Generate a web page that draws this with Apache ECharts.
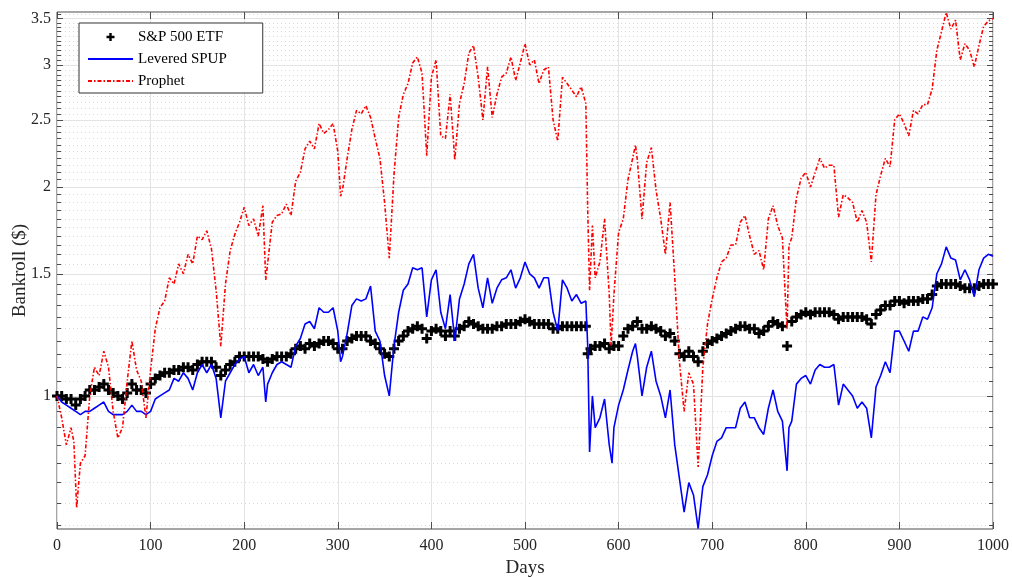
<!DOCTYPE html>
<html><head><meta charset="utf-8">
<script src="https://cdn.jsdelivr.net/npm/echarts@6/dist/echarts.min.js"></script>
<style>html,body{margin:0;padding:0;background:#fff}#c{width:1012px;height:577px}</style>
</head><body><div id="c"></div>
<script>
const seriesNames = ['S&P 500 ETF', 'Levered SPUP', 'Prophet'];

const sp500 = [[0,1.0],[5,1.0],[10,0.99],[15,0.99],[20,0.97],[25,0.99],[30,1.0],[35,1.02],[40,1.02],[45,1.03],[50,1.04],[55,1.02],[60,1.01],[65,1.0],[70,0.99],[75,1.01],[80,1.04],[85,1.02],[90,1.02],[95,1.01],[100,1.04],[105,1.06],[110,1.07],[115,1.08],[120,1.08],[125,1.09],[130,1.09],[135,1.1],[140,1.1],[145,1.09],[150,1.11],[155,1.12],[160,1.12],[165,1.12],[170,1.1],[175,1.07],[180,1.09],[185,1.11],[190,1.12],[195,1.14],[200,1.14],[205,1.14],[210,1.14],[215,1.14],[220,1.13],[225,1.12],[230,1.13],[235,1.14],[240,1.14],[245,1.14],[250,1.15],[255,1.17],[260,1.18],[265,1.17],[270,1.19],[275,1.18],[280,1.19],[285,1.2],[290,1.2],[295,1.19],[300,1.17],[305,1.17],[310,1.2],[315,1.21],[320,1.22],[325,1.22],[330,1.22],[335,1.2],[340,1.19],[345,1.17],[350,1.15],[355,1.14],[360,1.17],[365,1.2],[370,1.22],[375,1.24],[380,1.25],[385,1.26],[390,1.25],[395,1.21],[400,1.24],[405,1.25],[410,1.24],[415,1.22],[420,1.24],[425,1.22],[430,1.25],[435,1.26],[440,1.28],[445,1.27],[450,1.26],[455,1.25],[460,1.25],[465,1.25],[470,1.26],[475,1.26],[480,1.27],[485,1.27],[490,1.27],[495,1.28],[500,1.29],[505,1.28],[510,1.27],[515,1.27],[520,1.27],[525,1.27],[530,1.25],[535,1.25],[540,1.26],[545,1.26],[550,1.26],[555,1.26],[560,1.26],[565,1.26],[567,1.15],[570,1.17],[575,1.18],[580,1.18],[585,1.19],[590,1.17],[595,1.18],[600,1.18],[605,1.22],[610,1.25],[615,1.26],[620,1.28],[625,1.25],[630,1.25],[635,1.26],[640,1.25],[645,1.24],[650,1.22],[655,1.23],[660,1.2],[665,1.15],[670,1.14],[675,1.16],[680,1.14],[685,1.12],[690,1.16],[695,1.19],[700,1.2],[705,1.21],[710,1.22],[715,1.23],[720,1.24],[725,1.25],[730,1.26],[735,1.26],[740,1.25],[745,1.25],[750,1.23],[755,1.24],[760,1.26],[765,1.28],[770,1.27],[775,1.26],[780,1.18],[785,1.28],[790,1.3],[795,1.31],[800,1.32],[805,1.31],[810,1.32],[815,1.32],[820,1.32],[825,1.32],[830,1.31],[835,1.29],[840,1.3],[845,1.3],[850,1.3],[855,1.3],[860,1.3],[865,1.29],[870,1.27],[875,1.31],[880,1.33],[885,1.35],[890,1.35],[895,1.37],[900,1.37],[905,1.36],[910,1.37],[915,1.37],[920,1.37],[925,1.38],[930,1.38],[935,1.4],[940,1.44],[945,1.45],[950,1.45],[955,1.45],[960,1.45],[965,1.44],[970,1.43],[975,1.43],[980,1.43],[985,1.44],[990,1.45],[995,1.45],[1000,1.45]];

const spup = [[0,1.0],[5,0.98],[10,0.97],[15,0.96],[20,0.95],[25,0.94],[30,0.95],[35,0.95],[40,0.96],[45,0.97],[50,0.98],[55,0.95],[60,0.94],[65,0.94],[70,0.94],[75,0.95],[80,0.97],[85,0.95],[90,0.95],[95,0.94],[100,0.95],[105,0.99],[110,1.0],[115,1.01],[120,1.02],[125,1.06],[130,1.05],[135,1.08],[140,1.06],[145,1.02],[150,1.08],[155,1.11],[160,1.08],[165,1.11],[170,1.06],[175,0.93],[180,1.05],[185,1.08],[190,1.11],[195,1.13],[200,1.14],[205,1.08],[210,1.11],[215,1.07],[220,1.1],[223,0.98],[225,1.04],[230,1.08],[235,1.11],[240,1.12],[245,1.11],[250,1.1],[255,1.18],[260,1.21],[265,1.27],[270,1.28],[275,1.25],[280,1.34],[285,1.32],[290,1.32],[295,1.34],[300,1.24],[303,1.12],[305,1.14],[310,1.23],[315,1.35],[320,1.38],[325,1.37],[330,1.38],[335,1.44],[340,1.24],[345,1.2],[350,1.07],[355,1.0],[360,1.18],[365,1.32],[370,1.42],[375,1.45],[380,1.53],[385,1.52],[390,1.53],[395,1.3],[400,1.47],[405,1.52],[410,1.32],[415,1.25],[420,1.4],[425,1.2],[430,1.38],[435,1.45],[440,1.55],[445,1.6],[450,1.43],[455,1.34],[460,1.48],[465,1.36],[470,1.43],[475,1.47],[480,1.48],[485,1.52],[490,1.43],[495,1.48],[500,1.56],[505,1.5],[510,1.48],[515,1.43],[520,1.48],[525,1.48],[530,1.32],[535,1.24],[540,1.47],[545,1.43],[550,1.37],[555,1.4],[560,1.36],[565,1.37],[567,1.18],[569,0.83],[572,1.0],[575,0.9],[580,0.93],[585,0.99],[590,0.85],[593,0.8],[595,0.9],[600,0.97],[605,1.02],[610,1.09],[615,1.16],[618,1.19],[620,1.14],[625,1.0],[630,1.1],[635,1.16],[640,1.05],[645,1.0],[650,0.93],[655,1.02],[660,0.85],[665,0.76],[670,0.68],[675,0.75],[680,0.72],[685,0.644],[690,0.74],[695,0.77],[700,0.82],[705,0.86],[710,0.87],[715,0.9],[720,0.9],[725,0.9],[730,0.96],[735,0.98],[740,0.93],[745,0.93],[750,0.9],[755,0.88],[760,0.96],[765,1.02],[770,0.95],[775,0.92],[780,0.78],[782,0.9],[785,0.92],[790,1.04],[795,1.06],[800,1.07],[805,1.04],[810,1.09],[815,1.11],[820,1.1],[825,1.1],[830,1.11],[835,0.97],[840,1.04],[845,1.02],[850,1.0],[855,0.96],[860,0.98],[865,0.96],[870,0.87],[875,1.03],[880,1.07],[885,1.12],[890,1.08],[895,1.24],[900,1.24],[905,1.2],[910,1.16],[915,1.24],[920,1.24],[925,1.3],[930,1.29],[935,1.34],[940,1.5],[945,1.55],[950,1.64],[955,1.58],[960,1.57],[965,1.47],[970,1.52],[975,1.47],[980,1.39],[985,1.52],[990,1.58],[995,1.6],[1000,1.59]];

const prophet = [[0,1.0],[5,0.93],[10,0.85],[15,0.9],[18,0.86],[21,0.69],[25,0.8],[30,0.82],[35,1.0],[40,1.1],[45,1.07],[50,1.16],[55,1.1],[60,0.95],[65,0.87],[70,0.9],[75,1.05],[80,1.2],[85,1.09],[90,1.05],[95,0.93],[100,1.09],[105,1.25],[110,1.34],[115,1.37],[120,1.48],[125,1.45],[130,1.55],[135,1.5],[140,1.6],[145,1.55],[150,1.7],[155,1.68],[160,1.73],[165,1.63],[170,1.42],[175,1.18],[180,1.45],[185,1.62],[190,1.71],[195,1.78],[200,1.87],[205,1.76],[210,1.8],[215,1.7],[220,1.88],[223,1.47],[225,1.55],[230,1.78],[235,1.82],[240,1.83],[245,1.89],[250,1.82],[255,2.04],[260,2.1],[265,2.27],[270,2.33],[275,2.27],[280,2.47],[285,2.39],[290,2.42],[295,2.47],[300,2.25],[303,1.94],[305,1.98],[310,2.2],[315,2.42],[320,2.58],[325,2.55],[330,2.62],[335,2.52],[340,2.35],[345,2.2],[350,1.9],[355,1.58],[360,2.08],[365,2.52],[370,2.72],[375,2.82],[380,3.02],[385,3.08],[390,2.92],[395,2.22],[400,2.88],[405,3.05],[410,2.37],[415,2.35],[420,2.72],[425,2.19],[430,2.64],[435,2.82],[440,3.12],[445,3.2],[450,2.88],[455,2.5],[460,2.98],[465,2.52],[470,2.72],[475,2.88],[480,2.92],[485,3.08],[490,2.85],[495,3.02],[500,3.22],[505,3.0],[510,3.05],[515,2.82],[520,2.95],[525,2.98],[530,2.5],[535,2.33],[540,2.88],[545,2.82],[550,2.76],[555,2.7],[560,2.79],[565,2.64],[567,1.85],[569,1.42],[572,1.76],[575,1.48],[580,1.56],[585,1.8],[590,1.4],[592,1.18],[595,1.4],[600,1.72],[605,1.8],[610,2.05],[615,2.2],[618,2.3],[620,2.19],[625,1.8],[630,2.17],[635,2.28],[640,1.98],[645,1.8],[650,1.6],[655,1.9],[660,1.48],[665,1.12],[670,0.95],[675,1.08],[680,1.04],[685,0.79],[690,1.1],[695,1.27],[700,1.38],[705,1.48],[710,1.56],[715,1.58],[720,1.65],[725,1.65],[730,1.78],[735,1.82],[740,1.7],[745,1.6],[750,1.62],[755,1.52],[760,1.8],[765,1.88],[770,1.76],[775,1.69],[778,1.4],[780,1.25],[782,1.65],[785,1.69],[790,1.93],[795,2.06],[800,2.1],[805,2.0],[810,2.1],[815,2.2],[820,2.13],[825,2.15],[830,2.15],[835,1.81],[840,1.95],[845,1.93],[850,1.9],[855,1.78],[860,1.85],[865,1.78],[870,1.56],[875,1.95],[880,2.08],[885,2.2],[890,2.14],[895,2.5],[900,2.55],[905,2.47],[910,2.37],[915,2.58],[920,2.55],[925,2.63],[930,2.63],[935,2.77],[940,3.15],[945,3.35],[950,3.57],[955,3.38],[960,3.48],[965,3.05],[970,3.22],[975,3.15],[980,2.98],[985,3.2],[990,3.41],[995,3.47],[1000,3.5]];

const yMajorTicks = [1, 1.5, 2, 2.5, 3, 3.5];
const yMinorTicks = [0.65,0.7,0.75,0.8,0.85,0.9,0.95,1.05,1.1,1.15,1.2,1.25,1.3,1.35,1.4,1.45,1.55,1.6,1.65,1.7,1.75,1.8,1.85,1.9,1.95,2.05,2.1,2.15,2.2,2.25,2.3,2.35,2.4,2.45,2.55,2.6,2.65,2.7,2.75,2.8,2.85,2.9,2.95,3.05,3.1,3.15,3.2,3.25,3.3,3.35,3.4,3.45,3.55];
const yRange = [0.643, 3.576];
const xRange = [0, 1000];
const xStep = 100;

const FONT = 'Liberation Serif';
const AX = '#4d4d4d';
const TXT = '#262626';
const plusPath = 'path://M-1.5,-5H1.5V-1.5H5V1.5H1.5V5H-1.5V1.5H-5V-1.5H-1.5Z';

function yAx(pos, ticks, len, opts) {
  return Object.assign({
    type: 'log', logBase: 10, min: yRange[0], max: yRange[1], position: pos,
    axisLine: {show: false},
    axisTick: {show: true, inside: true, length: len, customValues: ticks, lineStyle: {color: AX, width: 1}},
    axisLabel: {show: false},
    splitLine: {show: false},
    nameMoveOverlap: false
  }, opts || {});
}

const chart = echarts.init(document.getElementById('c'), null, {renderer: 'canvas'});
chart.setOption({
  animation: false,
  backgroundColor: '#fff',
  grid: {left: 57, right: 19, top: 12, bottom: 48, show: true, borderColor: AX, borderWidth: 1,
         backgroundColor: 'transparent', containLabel: false, outerBoundsMode: 'none'},
  legend: {
    left: 79, top: 23, orient: 'vertical', selectedMode: false,
    backgroundColor: '#fff', borderColor: '#333', borderWidth: 1,
    padding: [6, 36, 4, 8], itemWidth: 45, itemHeight: 8, itemGap: 6,
    textStyle: {fontFamily: FONT, fontSize: 15, color: '#000', lineHeight: 16},
    data: [
      {name: seriesNames[0], icon: plusPath, itemStyle: {color: '#000', opacity: 1}},
      {name: seriesNames[1], itemStyle: {opacity: 0}},
      {name: seriesNames[2], itemStyle: {opacity: 0}}
    ]
  },
  xAxis: [
    {type: 'value', min: xRange[0], max: xRange[1], interval: xStep, position: 'bottom',
     axisLine: {show: false},
     axisTick: {show: true, inside: true, length: 7, lineStyle: {color: AX}},
     axisLabel: {fontFamily: FONT, fontSize: 16, color: TXT, margin: 9, formatter: v => String(v)},
     splitLine: {show: true, lineStyle: {color: '#e3e3e3', width: 1}},
     name: 'Days', nameLocation: 'middle', nameGap: 30, nameMoveOverlap: false,
     nameTextStyle: {fontFamily: FONT, fontSize: 19, color: TXT}},
    {type: 'value', min: xRange[0], max: xRange[1], interval: xStep, position: 'top',
     axisLine: {show: false},
     axisTick: {show: true, inside: true, length: 7, lineStyle: {color: AX}},
     axisLabel: {show: false}, splitLine: {show: false}}
  ],
  yAxis: [
    yAx('left', yMajorTicks, 6, {
      axisLabel: {show: true, customValues: yMajorTicks, fontFamily: FONT, fontSize: 16, color: TXT, margin: 6,
                  formatter: v => String(Math.round(v * 100) / 100)},
      splitLine: {show: true, lineStyle: {color: '#e3e3e3', width: 1}},
      name: 'Bankroll ($)', nameLocation: 'middle', nameGap: 27,
      nameTextStyle: {fontFamily: FONT, fontSize: 19, color: TXT}
    }),
    yAx('left', yMinorTicks, 4, {splitLine: {show: true, lineStyle: {color: '#d9d9d9', width: 1, type: [1, 3]}}}),
    yAx('right', yMajorTicks, 6),
    yAx('right', yMinorTicks, 4)
  ],
  series: [
    {name: seriesNames[0], type: 'scatter', data: sp500, symbol: plusPath, symbolSize: 10,
     itemStyle: {color: '#000', opacity: 1}, xAxisIndex: 0, yAxisIndex: 0},
    {name: seriesNames[1], type: 'line', data: spup, symbol: 'none', showSymbol: false,
     lineStyle: {color: '#0000ff', width: 1.6}, itemStyle: {color: '#0000ff'}, xAxisIndex: 0, yAxisIndex: 0},
    {name: seriesNames[2], type: 'line', data: prophet, symbol: 'none', showSymbol: false,
     lineStyle: {color: '#ff0000', width: 1.6, type: [4, 2, 1.5, 2]}, itemStyle: {color: '#ff0000'}, xAxisIndex: 0, yAxisIndex: 0}
  ]
});
</script></body></html>
